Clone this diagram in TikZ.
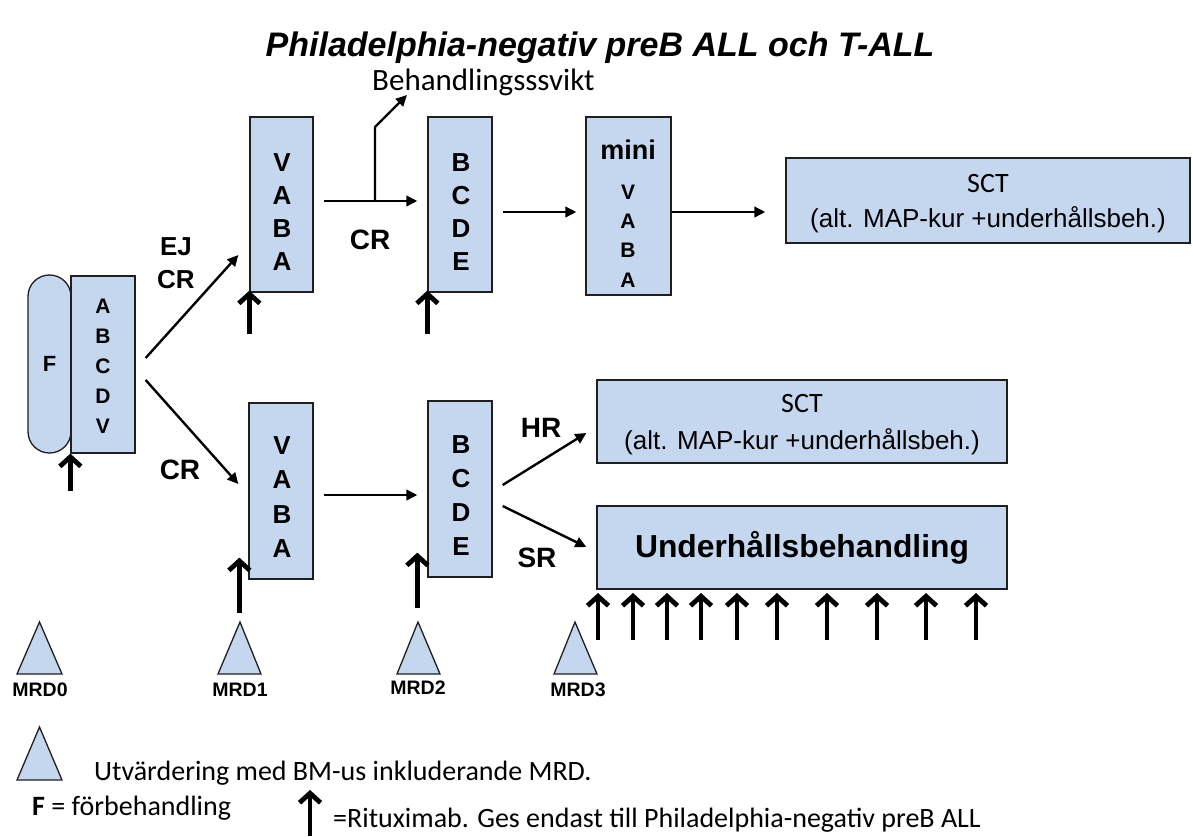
\documentclass[tikz,border=0pt]{standalone}
\usepackage{fontspec}
\setmainfont{Liberation Sans}
\newfontfamily\calib{Carlito}
\usetikzlibrary{arrows.meta}
\definecolor{boxblue}{RGB}{197,215,239}
\begin{document}
\begin{tikzpicture}[x=1pt,y=-1pt,
  box/.style={draw=black!88, line width=1.3pt, fill=boxblue, inner sep=0pt},
  letters/.style={font=\bfseries\fontsize{26}{33.3}\selectfont, align=center, inner sep=0pt},
  smallletters/.style={font=\bfseries\fontsize{21}{29.3}\selectfont, align=center, inner sep=0pt},
  lab/.style={font=\bfseries\fontsize{28}{28}\selectfont, align=center, inner sep=0pt},
  flow/.style={line width=2.4pt, -{Triangle[length=11pt,width=10.5pt]}},
  rit/.style={line width=4.8pt, -{Straight Barb[length=9.5pt,width=21pt]}},
  tri/.style={draw=black!88, line width=1.3pt, fill=boxblue, line join=miter},
  mrd/.style={font=\bfseries\fontsize{19.5}{19.5}\selectfont, inner sep=0pt},
  leg/.style={font=\calib\fontsize{28}{28}\selectfont, inner sep=0pt, anchor=base west},
  scta/.style={font=\calib\fontsize{28}{28}\selectfont, inner sep=0pt},
  sctb/.style={font=\fontsize{26}{26}\selectfont, inner sep=0pt},
]
\useasboundingbox (0,0) rectangle (1193,836);

% title
\node[font=\bfseries\itshape\fontsize{34}{34}\selectfont, anchor=base, inner sep=0pt] (title) at (600,56) {Philadelphia-negativ preB ALL och T-ALL};

% induction
\node[box, rounded corners=21.4pt, minimum width=43pt, minimum height=178pt, font=\bfseries\fontsize{22}{22}\selectfont] (F) at (49.5,364) {F};
\node[box, minimum width=64pt, minimum height=177pt] (abcdv) at (103,364.5) {};
\node[smallletters, font=\bfseries\fontsize{21}{30}\selectfont] (abcdvt) at (103,366) {A\\B\\C\\D\\V};

% upper row
\node[box, minimum width=63pt, minimum height=175pt] (vaba1) at (281.5,204.5) {};
\node[letters] (vaba1t) at (282,212) {V\\A\\B\\A};
\node[box, minimum width=64pt, minimum height=175pt] (bcde1) at (460,204.5) {};
\node[letters] (bcde1t) at (461,212) {B\\C\\D\\E};
\node[box, minimum width=85pt, minimum height=178pt] (mini) at (628.5,206) {};
\node[font=\bfseries\fontsize{27}{27}\selectfont, inner sep=0pt] (minit) at (628,150) {mini};
\node[smallletters] (minil) at (628,236) {V\\A\\B\\A};
\node[box, minimum width=404pt, minimum height=85pt] (sct1) at (988,200.5) {};
\node[scta] (sct1a) at (988,184) {SCT};
\node[sctb] (sct1b) at (988,220) {(alt. MAP-kur +underhållsbeh.)};

% lower row
\node[box, minimum width=64pt, minimum height=176pt] (vaba2) at (281,491) {};
\node[letters, font=\bfseries\fontsize{26}{34.3}\selectfont] (vaba2t) at (282,497) {V\\A\\B\\A};
\node[box, minimum width=64pt, minimum height=176pt] (bcde2) at (460,489) {};
\node[letters, font=\bfseries\fontsize{26}{34}\selectfont] (bcde2t) at (461,496) {B\\C\\D\\E};
\node[box, minimum width=410pt, minimum height=83pt] (sct2) at (802,421.5) {};
\node[scta] (sct2a) at (802,404) {SCT};
\node[sctb] (sct2b) at (802,442) {(alt. MAP-kur +underhållsbeh.)};
\node[box, minimum width=410pt, minimum height=83pt, font=\bfseries\fontsize{31.8}{31.8}\selectfont] (under) at (802,547.5) {Underhållsbehandling};

% labels
\node[lab, font=\bfseries\fontsize{26}{33}\selectfont] (ejcr) at (176,263) {EJ\\CR};
\node[lab] (cr1) at (370,240) {CR};
\node[lab] (cr2) at (180,470) {CR};
\node[lab] (hr) at (541,428) {HR};
\node[lab] (sr) at (537,558) {SR};
\node[font=\calib\fontsize{31}{31}\selectfont, anchor=base west, inner sep=0pt] (beh) at (372,90) {Behandlingsssvikt};

% flow connectors
\draw[flow] ([xshift=10pt,yshift=6.5pt]abcdv.east) -- ([xshift=-11pt,yshift=-50.5pt]vaba1.west);
\draw[flow] ([xshift=10pt,yshift=-15.5pt]abcdv.east) -- ([xshift=-10pt,yshift=7pt]vaba2.west);
\draw[flow] ([xshift=10pt,yshift=3.5pt]vaba1.east) -- ([xshift=-10pt,yshift=3.5pt]bcde1.west);
\coordinate (br) at (375,201);
\coordinate (brk) at (375,127);
\coordinate (brt) at (407,95);
\draw[flow] (br) -- (brk) -- (brt);
\draw[flow] ([xshift=10pt,yshift=-7.5pt]bcde1.east) -- ([xshift=-9pt,yshift=-6pt]mini.west);
\draw[flow] ([yshift=-6pt]mini.east) -- ([xshift=-20pt,yshift=-11.5pt]sct1.west);
\draw[flow] ([xshift=10pt,yshift=-4pt]vaba2.east) -- ([xshift=-10pt,yshift=-6pt]bcde2.west);
\draw[flow] ([xshift=10pt,yshift=4pt]bcde2.east) -- ([xshift=-10pt,yshift=-11.5pt]sct2.west);
\draw[flow] ([xshift=10pt,yshift=-17pt]bcde2.east) -- ([xshift=-10pt,yshift=0.5pt]under.west);

% rituximab arrows
\draw[rit] ([yshift=-37pt]abcdv.south west) -- (abcdv.south west);
\draw[rit] ([yshift=-41pt]vaba1.south west) -- ([yshift=2pt]vaba1.south west);
\draw[rit] ([yshift=-41pt]bcde1.south west) -- ([yshift=2pt]bcde1.south west);
\draw[rit] ([xshift=-9pt,yshift=-33pt]vaba2.south west) -- ([xshift=-9pt,yshift=22pt]vaba2.south west);
\draw[rit] ([xshift=-10pt,yshift=-30pt]bcde2.south west) -- ([xshift=-10pt,yshift=25pt]bcde2.south west);
\foreach \x in {598,633,667,701,737,777,827,877,926,976}
  \draw[rit] (\x,640) -- (\x,593);

% MRD triangles
\draw[tri] (17,674) -- (39.5,622) -- (62,674) -- cycle;
\draw[tri] (218,674) -- (240,622) -- (261,674) -- cycle;
\draw[tri] (397,674) -- (418,622) -- (440,674) -- cycle;
\draw[tri] (554,674) -- (575,622) -- (597,674) -- cycle;
\node[mrd] (m0) at (40,690) {MRD0};
\node[mrd] (m1) at (240,690) {MRD1};
\node[mrd] (m2) at (418,688) {MRD2};
\node[mrd] (m3) at (578,690) {MRD3};

% legend
\draw[tri] (17,780) -- (39.5,727) -- (62,780) -- cycle;
\node[leg] (l1) at (94,780) {Utvärdering med BM-us inkluderande MRD.};
\node[leg] (l2) at (32,815) {\textbf{F} = förbehandling};
\draw[rit] (310,836) -- (310,790);
\node[leg] (l3) at (333,827) {=Rituximab. Ges endast till Philadelphia-negativ preB ALL};
\end{tikzpicture}
\end{document}
